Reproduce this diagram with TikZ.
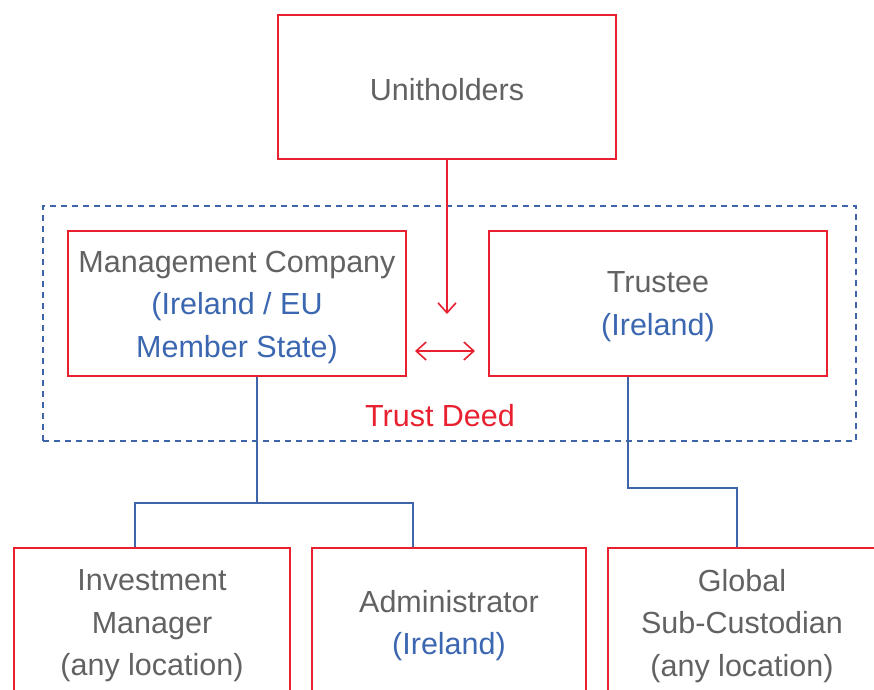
\documentclass[tikz,border=0pt]{standalone}
\usepackage{fontspec}
\setmainfont{Liberation Sans}
\usetikzlibrary{arrows.meta,calc}
\definecolor{boxred}{HTML}{E8202F}
\definecolor{linkblue}{HTML}{3E65AA}
\definecolor{txtgray}{HTML}{626262}
\definecolor{txtblue}{HTML}{3B66B0}
\tikzset{
  entity/.style={draw=boxred, line width=1.6pt, rectangle, inner sep=0pt},
  label/.style={text=txtgray, align=center, font=\fontsize{30.5}{42.5}\selectfont},
  link/.style={draw=linkblue, line width=1.6pt},
  flow/.style={draw=boxred, line width=1.6pt, -{Straight Barb[length=10pt,width=18pt,line width=1.6pt]}},
  flowboth/.style={draw=boxred, line width=1.6pt, {Straight Barb[length=10pt,width=18pt,line width=1.6pt]}-{Straight Barb[length=10pt,width=18pt,line width=1.6pt]}},
  scheme/.style={draw=linkblue, line width=1.6pt, dash pattern=on 6pt off 5pt},
}
\begin{document}
\begin{tikzpicture}[x=1pt,y=-1pt]
\useasboundingbox (0,0) rectangle (874,689);
\clip (0,0) rectangle (874,689);

% trust deed scope
\node[scheme, minimum width=813pt, minimum height=235pt, rectangle] (scope) at (449.5,323.5) {};
\node[label, text=boxred] (deed) at (440,416) {Trust Deed};

% parties
\node[entity, minimum width=338pt, minimum height=144pt] (unit) at (447,87) {};
\node[label] (unit-t) at (447,90) {Unitholders};

\node[entity, minimum width=338pt, minimum height=145pt] (mc) at (237,303.5) {};
\node[label] (mc-t) at (237,307) {Management Company\\ \textcolor{txtblue}{(Ireland / EU}\\ \textcolor{txtblue}{Member State)}};

\node[entity, minimum width=338pt, minimum height=145pt] (tr) at (658,303.5) {};
\node[label] (tr-t) at (658,306.5) {Trustee\\ \textcolor{txtblue}{(Ireland)}};

\node[entity, minimum width=276pt, minimum height=213pt, anchor=north] (im) at (152,547) {};
\node[label] (im-t) at (152,626) {Investment\\ Manager\\ (any location)};

\node[entity, minimum width=274pt, minimum height=213pt, anchor=north] (adm) at (449,547) {};
\node[label] (adm-t) at (449,625.5) {Administrator\\ \textcolor{txtblue}{(Ireland)}};

\node[entity, minimum width=282pt, minimum height=213pt, anchor=north] (gsc) at (749,547) {};
\node[label] (gsc-t) at (742,626) {Global\\ Sub-Custodian\\ (any location)};

% relationships
\coordinate (unit-end) at (447,314);
\draw[flow] (unit.south) -- (unit-end);
\coordinate (mc-link) at (415,351);
\coordinate (tr-link) at (475,351);
\draw[flowboth] (mc-link) -- (tr-link);

% delegation lines
\coordinate (mc-drop) at (257,503);
\coordinate (im-top) at (135,547);
\coordinate (adm-top) at (413,547);
\draw[link] (mc.south -| mc-drop) -- (mc-drop);
\draw[link] (im-top) |- (mc-drop) -| (adm-top);

\coordinate (tr-drop) at (628,488);
\coordinate (gsc-top) at (737,547);
\draw[link] (tr.south -| tr-drop) -- (tr-drop) -| (gsc-top);
\end{tikzpicture}
\end{document}
